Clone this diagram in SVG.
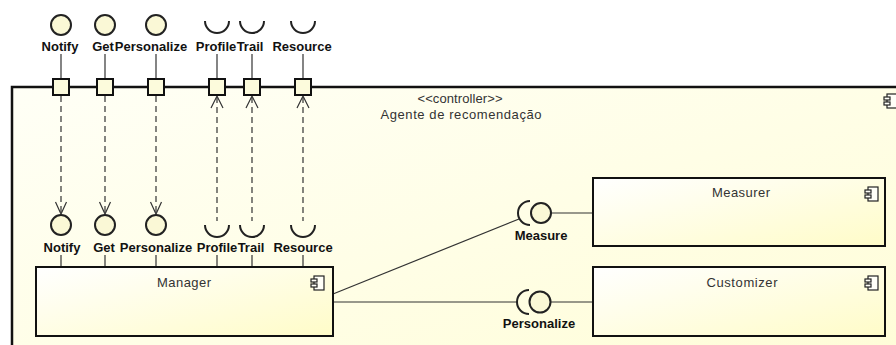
<svg xmlns="http://www.w3.org/2000/svg" width="896" height="345" viewBox="0 0 896 345">
<defs>
<linearGradient id="gc" x1="0" y1="0" x2="1" y2="1">
<stop offset="0" stop-color="#FFFFF6"/>
<stop offset="1" stop-color="#FFFDD6"/>
</linearGradient>
<linearGradient id="gb" x1="0" y1="0" x2="1" y2="1">
<stop offset="0" stop-color="#FFFFFF"/>
<stop offset="1" stop-color="#FFFCC8"/>
</linearGradient>
<g id="icon">
<rect x="3" y="0" width="10" height="14" fill="#FFFFF8" stroke="#222" stroke-width="1.2"/>
<rect x="0" y="3" width="6" height="3" fill="#FFFFF8" stroke="#222" stroke-width="1.2"/>
<rect x="0" y="8" width="6" height="3" fill="#FFFFF8" stroke="#222" stroke-width="1.2"/>
</g>
</defs>
<style>
.lbl{font-family:"Liberation Sans",Arial,sans-serif;font-weight:bold;font-size:13px;fill:#111;text-anchor:middle}
.txt{font-family:"Liberation Sans",Arial,sans-serif;font-size:13px;fill:#333;text-anchor:middle}
.box{fill:url(#gb);stroke:#111;stroke-width:2}
.ball{fill:#FAF8D6;stroke:#222;stroke-width:2}
.sock{fill:none;stroke:#222;stroke-width:2}
.port{fill:#FCFBDC;stroke:#111;stroke-width:2}
.ln{fill:none;stroke:#333;stroke-width:1.2}
.dash{fill:none;stroke:#333;stroke-width:1.2;stroke-dasharray:6 4}
.arr{fill:none;stroke:#333;stroke-width:1.2}
</style>
<rect width="896" height="345" fill="#FFFFFF"/>

<g id="container">
<rect x="12" y="87" width="900" height="300" fill="url(#gc)" stroke="#111" stroke-width="2.5"/>
<text class="txt" x="460" y="103" textLength="85" lengthAdjust="spacing">&lt;&lt;controller&gt;&gt;</text>
<text class="txt" x="461" y="119" textLength="161" lengthAdjust="spacing">Agente de recomendação</text>
<use href="#icon" x="884" y="94"/>
</g>

<g id="connectors">
<!-- top provided interfaces to ports -->
<line class="ln" x1="61" y1="54" x2="61" y2="79"/>
<line class="ln" x1="105" y1="54" x2="105" y2="79"/>
<line class="ln" x1="156" y1="54" x2="156" y2="79"/>
<line class="ln" x1="217" y1="54" x2="217" y2="79"/>
<line class="ln" x1="252" y1="54" x2="252" y2="79"/>
<line class="ln" x1="303" y1="54" x2="303" y2="79"/>
<!-- dashed delegations down -->
<line class="dash" x1="61" y1="96" x2="61" y2="214"/>
<line class="dash" x1="105" y1="96" x2="105" y2="214"/>
<line class="dash" x1="156" y1="96" x2="156" y2="214"/>
<polyline class="arr" points="55.5,202 61,214 66.5,202"/>
<polyline class="arr" points="99.5,202 105,214 110.5,202"/>
<polyline class="arr" points="150.5,202 156,214 161.5,202"/>
<!-- dashed delegations up -->
<line class="dash" x1="217" y1="97" x2="217" y2="221"/>
<line class="dash" x1="252" y1="97" x2="252" y2="221"/>
<line class="dash" x1="303" y1="97" x2="303" y2="221"/>
<polyline class="arr" points="211,108 217,96 223,108"/>
<polyline class="arr" points="246,108 252,96 258,108"/>
<polyline class="arr" points="297,108 303,96 309,108"/>
<!-- bottom labels to Manager -->
<line class="ln" x1="61" y1="255" x2="61" y2="267"/>
<line class="ln" x1="105" y1="255" x2="105" y2="267"/>
<line class="ln" x1="156" y1="255" x2="156" y2="267"/>
<line class="ln" x1="217" y1="255" x2="217" y2="267"/>
<line class="ln" x1="252" y1="255" x2="252" y2="267"/>
<line class="ln" x1="303" y1="255" x2="303" y2="267"/>
<!-- Manager to sockets -->
<line class="ln" x1="333" y1="294" x2="519" y2="219"/>
<line class="ln" x1="333" y1="302" x2="518" y2="302"/>
<!-- balls to components -->
<line class="ln" x1="551" y1="213" x2="593" y2="213"/>
<line class="ln" x1="551" y1="302" x2="593" y2="302"/>
</g>

<g id="top-interfaces">
<circle class="ball" cx="61" cy="25" r="10"/>
<circle class="ball" cx="105" cy="25" r="10"/>
<circle class="ball" cx="156" cy="25" r="10"/>
<path class="sock" d="M205,21 A12,12 0 0 0 229,21"/>
<path class="sock" d="M240,21 A12,12 0 0 0 264,21"/>
<path class="sock" d="M291,21 A12,12 0 0 0 315,21"/>
<text class="lbl" x="60" y="51">Notify</text>
<text class="lbl" x="103" y="51">Get</text>
<text class="lbl" x="151" y="51">Personalize</text>
<text class="lbl" x="216" y="51">Profile</text>
<text class="lbl" x="250" y="51">Trail</text>
<text class="lbl" x="302" y="51">Resource</text>
</g>

<g id="ports">
<rect class="port" x="53" y="79" width="16" height="16"/>
<rect class="port" x="97" y="79" width="16" height="16"/>
<rect class="port" x="148" y="79" width="16" height="16"/>
<rect class="port" x="209" y="79" width="16" height="16"/>
<rect class="port" x="244" y="79" width="16" height="16"/>
<rect class="port" x="295" y="79" width="16" height="16"/>
</g>

<g id="manager-interfaces">
<circle class="ball" cx="61" cy="225" r="10"/>
<circle class="ball" cx="105" cy="225" r="10"/>
<circle class="ball" cx="156" cy="225" r="10"/>
<path class="sock" d="M205,225 A12,12 0 0 0 229,225"/>
<path class="sock" d="M240,225 A12,12 0 0 0 264,225"/>
<path class="sock" d="M291,225 A12,12 0 0 0 315,225"/>
<text class="lbl" x="62" y="252">Notify</text>
<text class="lbl" x="104" y="252">Get</text>
<text class="lbl" x="156" y="252">Personalize</text>
<text class="lbl" x="217" y="252">Profile</text>
<text class="lbl" x="251" y="252">Trail</text>
<text class="lbl" x="303" y="252">Resource</text>
</g>

<g id="manager">
<rect class="box" x="36" y="267" width="297" height="69"/>
<text class="txt" x="184" y="287" textLength="54" lengthAdjust="spacing">Manager</text>
<use href="#icon" x="311" y="276"/>
</g>

<g id="measure-interface">
<path class="sock" d="M530,201 A12,12 0 0 0 530,225"/>
<circle class="ball" cx="541" cy="213" r="10"/>
<text class="lbl" x="541" y="240">Measure</text>
</g>

<g id="personalize-interface">
<path class="sock" d="M529,290 A12,12 0 0 0 529,314"/>
<circle class="ball" cx="540" cy="302" r="10.5"/>
<text class="lbl" x="539" y="328">Personalize</text>
</g>

<g id="measurer">
<rect class="box" x="593" y="178" width="292" height="68"/>
<text class="txt" x="741" y="197" textLength="58" lengthAdjust="spacing">Measurer</text>
<use href="#icon" x="865" y="187"/>
</g>

<g id="customizer">
<rect class="box" x="593" y="267" width="292" height="69"/>
<text class="txt" x="742" y="287" textLength="71" lengthAdjust="spacing">Customizer</text>
<use href="#icon" x="865" y="276"/>
</g>
</svg>
